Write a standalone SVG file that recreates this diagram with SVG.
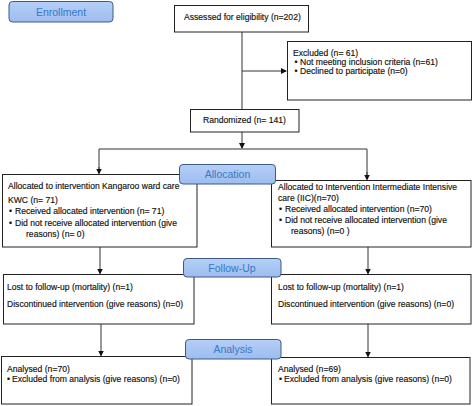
<svg xmlns="http://www.w3.org/2000/svg" width="473" height="406" viewBox="0 0 473 406">
<defs>
<marker id="arr" markerWidth="6" markerHeight="6" refX="5" refY="3" orient="auto" markerUnits="userSpaceOnUse">
<path d="M0,0 L6,3 L0,6 Z" fill="#111"/>
</marker>
<linearGradient id="lbl" x1="0" y1="0" x2="0" y2="1">
<stop offset="0" stop-color="#b4cff7"/>
<stop offset="1" stop-color="#9dbdf0"/>
</linearGradient>
</defs>
<style>
.box{fill:#fff;stroke:#222;stroke-width:1}
.lab{fill:url(#lbl);stroke:#3d5a85;stroke-width:1}
.lt{font-family:"Liberation Sans",Arial,sans-serif;font-size:10.5px;fill:#3a78c4;text-anchor:middle}
.t{font-family:"Liberation Sans",Arial,sans-serif;font-size:8.6px;fill:#111;stroke:#111;stroke-width:0.15}
.c{fill:none;stroke:#333;stroke-width:1}
</style>
<rect width="473" height="406" fill="#fff"/>
<g id="connectors">
<line class="c" x1="242" y1="32" x2="242" y2="109"/>
<line class="c" x1="242" y1="71" x2="286" y2="71" marker-end="url(#arr)"/>
<line class="c" x1="242" y1="132" x2="242" y2="148" marker-end="url(#arr)"/>
<polyline class="c" points="99,173 99,149 367,149 367,179"/>
<line class="c" x1="99" y1="167" x2="99" y2="173.5" marker-end="url(#arr)"/>
<line class="c" x1="367" y1="172" x2="367" y2="179.5" marker-end="url(#arr)"/>
<line class="c" x1="100" y1="247" x2="100" y2="273.5" marker-end="url(#arr)"/>
<line class="c" x1="368" y1="247" x2="368" y2="273.5" marker-end="url(#arr)"/>
<line class="c" x1="101" y1="324" x2="101" y2="355.5" marker-end="url(#arr)"/>
<line class="c" x1="368" y1="324" x2="368" y2="356.5" marker-end="url(#arr)"/>
</g>
<g id="enrollment">
<rect class="lab" x="9" y="1.5" width="104" height="20.5" rx="3.5"/>
<text class="lt" x="61" y="15.5">Enrollment</text>
</g>
<g id="assessed">
<rect class="box" x="174.5" y="5.5" width="134" height="26.5"/>
<text class="t" x="184" y="20">Assessed for eligibility (n=202)</text>
</g>
<g id="excluded">
<rect class="box" x="287.5" y="41.5" width="184" height="58.5"/>
<text class="t" x="293" y="56">Excluded (n= 61)</text>
<text class="t" x="294.5" y="65">•</text>
<text class="t" x="300" y="65">Not meeting inclusion criteria (n=61)</text>
<text class="t" x="294.5" y="74">•</text>
<text class="t" x="300" y="74">Declined to participate (n=0)</text>
</g>
<g id="randomized">
<rect class="box" x="190.5" y="109.5" width="108.5" height="22.5"/>
<text class="t" x="203" y="123">Randomized (n= 141)</text>
</g>
<g id="alloc-left">
<rect class="box" x="2.5" y="174.5" width="194.5" height="72.5"/>
<text class="t" x="8" y="189">Allocated to intervention Kangaroo ward care</text>
<text class="t" x="8" y="203">KWC (n= 71)</text>
<text class="t" x="9" y="214">•</text>
<text class="t" x="15" y="214">Received allocated intervention (n= 71)</text>
<text class="t" x="9" y="226">•</text>
<text class="t" x="15" y="226">Did not receive allocated intervention (give</text>
<text class="t" x="26" y="237">reasons) (n= 0)</text>
</g>
<g id="alloc-right">
<rect class="box" x="271.5" y="180.5" width="199.5" height="66.5"/>
<text class="t" x="278" y="190">Allocated to Intervention Intermediate Intensive</text>
<text class="t" x="278" y="201">care (IIC)(n=70)</text>
<text class="t" x="279" y="212">•</text>
<text class="t" x="285" y="212">Received allocated intervention (n=70)</text>
<text class="t" x="279" y="223">•</text>
<text class="t" x="285" y="223">Did not receive allocated intervention (give</text>
<text class="t" x="291" y="234">reasons) (n=0 )</text>
</g>
<g id="allocation">
<rect class="lab" x="179.5" y="164.5" width="96" height="19.5" rx="3.5"/>
<text class="lt" x="227.5" y="178">Allocation</text>
</g>
<g id="fu-left">
<rect class="box" x="3.5" y="274.5" width="190.5" height="49.5"/>
<text class="t" x="7" y="290">Lost to follow-up (mortality) (n=1)</text>
<text class="t" x="7" y="307">Discontinued intervention (give reasons) (n=0)</text>
</g>
<g id="fu-right">
<rect class="box" x="271.5" y="274.5" width="199.5" height="49.5"/>
<text class="t" x="278" y="290">Lost to follow-up (mortality) (n=1)</text>
<text class="t" x="278" y="307">Discontinued intervention (give reasons) (n=0)</text>
</g>
<g id="followup">
<rect class="lab" x="183.5" y="258.5" width="97.5" height="18.5" rx="3.5"/>
<text class="lt" x="232" y="271.5">Follow-Up</text>
</g>
<g id="an-left">
<rect class="box" x="1.5" y="356.5" width="190.5" height="47.5"/>
<text class="t" x="7" y="372">Analysed (n=70)</text>
<text class="t" x="7" y="382">•</text>
<text class="t" x="12" y="382">Excluded from analysis (give reasons) (n=0)</text>
</g>
<g id="an-right">
<rect class="box" x="271.5" y="357.5" width="198.5" height="46.5"/>
<text class="t" x="278" y="372">Analysed (n=69)</text>
<text class="t" x="279" y="382">•</text>
<text class="t" x="284" y="382">Excluded from analysis (give reasons) (n=0)</text>
</g>
<g id="analysis">
<rect class="lab" x="185.5" y="339.5" width="95.5" height="19.5" rx="3.5"/>
<text class="lt" x="233" y="353">Analysis</text>
</g>
</svg>
